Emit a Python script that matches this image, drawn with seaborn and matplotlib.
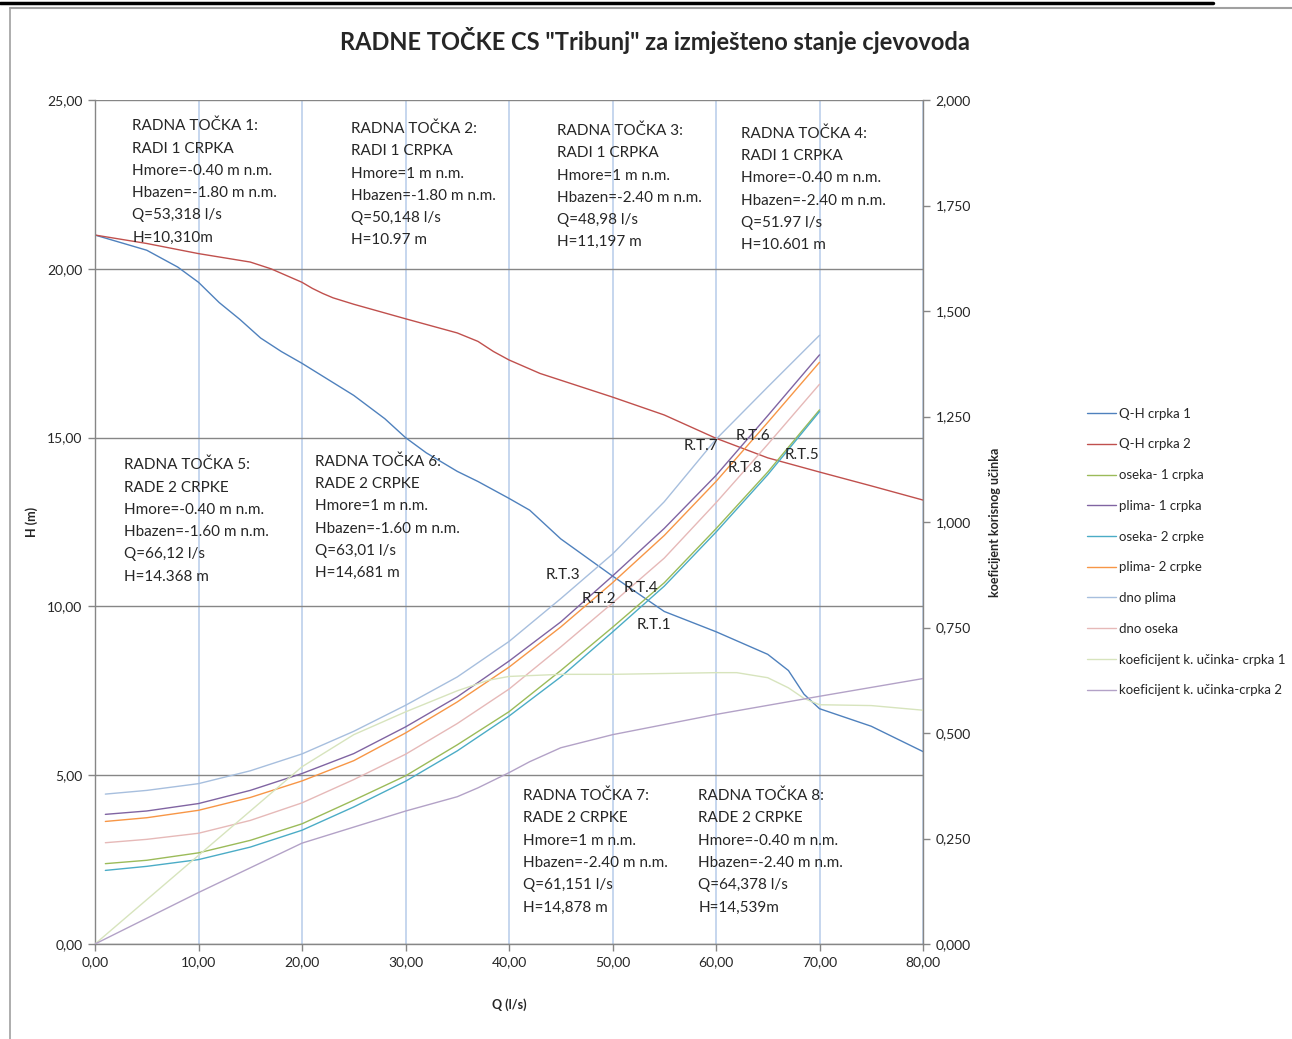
import numpy as np
import pandas as pd
import matplotlib
matplotlib.use("Agg")
import matplotlib.pyplot as plt
from matplotlib.lines import Line2D
import seaborn as sns

# Q-H krivulje crpki (lijeva os, H u m)
Q_QH1 = [0, 5, 8, 10, 12, 14, 16, 18, 20, 25, 28, 30, 32, 35, 37, 40, 42, 45, 50, 55, 60, 65, 67,
         68.5, 70, 75, 80]
H_QH1 = [21.0, 20.55, 20.05, 19.6, 19.0, 18.5, 17.95, 17.55, 17.2, 16.25, 15.56, 15.0, 14.55, 14.0,
         13.7, 13.2, 12.85, 12.0, 10.9, 9.85, 9.25, 8.58, 8.1, 7.4, 6.97, 6.45, 5.7]

Q_QH2 = [0, 5, 10, 15, 17, 20, 21, 22, 23, 25, 30, 35, 37, 38.5, 40, 43, 50, 55, 60, 65, 70, 75, 80]
H_QH2 = [21.0, 20.75, 20.45, 20.2, 20.0, 19.6, 19.42, 19.27, 19.14, 18.95, 18.52, 18.1, 17.85, 17.55,
         17.3, 16.9, 16.2, 15.67, 14.98, 14.4, 13.98, 13.57, 13.15]

# krivulje cjevovoda
Q_SUS = [1, 5, 10, 15, 20, 25, 30, 35, 40, 45, 50, 55, 60, 65, 70]
H_OSEKA1 = [2.38, 2.48, 2.70, 3.07, 3.56, 4.26, 4.98, 5.90, 6.88, 8.10, 9.38, 10.70, 12.30, 13.98, 15.82]
H_PLIMA1 = [3.84, 3.94, 4.16, 4.55, 5.05, 5.64, 6.43, 7.32, 8.38, 9.54, 10.90, 12.31, 13.88, 15.65, 17.45]
H_OSEKA2 = [2.18, 2.30, 2.50, 2.87, 3.37, 4.06, 4.82, 5.72, 6.75, 7.91, 9.24, 10.60, 12.20, 13.90, 15.77]
H_PLIMA2 = [3.63, 3.74, 3.96, 4.34, 4.83, 5.43, 6.25, 7.17, 8.20, 9.39, 10.70, 12.10, 13.70, 15.45, 17.23]
H_DNO_PLIMA = [4.44, 4.55, 4.75, 5.13, 5.63, 6.30, 7.07, 7.91, 8.96, 10.23, 11.55, 13.10, 14.95, 16.50, 18.03]
H_DNO_OSEKA = [3.00, 3.10, 3.28, 3.66, 4.18, 4.87, 5.62, 6.53, 7.55, 8.80, 10.10, 11.43, 13.07, 14.80, 16.58]

# koeficijent korisnog ucinka (desna os)
Q_K1 = [0, 10, 20, 25, 30, 35, 38, 40, 45, 50, 55, 60, 62, 65, 67, 68.5, 70, 75, 80]
K1 = [0, 0.21, 0.42, 0.496, 0.55, 0.60, 0.625, 0.634, 0.639, 0.639, 0.641, 0.643, 0.643, 0.631,
      0.607, 0.582, 0.567, 0.565, 0.554]
Q_K2 = [0, 10, 20, 30, 35, 37, 40, 42, 45, 50, 60, 70, 80]
K2 = [0, 0.122, 0.239, 0.315, 0.349, 0.370, 0.406, 0.432, 0.465, 0.496, 0.544, 0.587, 0.629]

H_SERIES = [
    ("Q-H crpka 1", Q_QH1, H_QH1, "#4F81BD"),
    ("Q-H crpka 2", Q_QH2, H_QH2, "#C0504D"),
    ("oseka- 1 crpka", Q_SUS, H_OSEKA1, "#9BBB59"),
    ("plima- 1 crpka", Q_SUS, H_PLIMA1, "#8064A2"),
    ("oseka- 2 crpke", Q_SUS, H_OSEKA2, "#4BACC6"),
    ("plima- 2 crpke", Q_SUS, H_PLIMA2, "#F79646"),
    ("dno plima", Q_SUS, H_DNO_PLIMA, "#A7BFDE"),
    ("dno oseka", Q_SUS, H_DNO_OSEKA, "#E6B9B8"),
]
K_SERIES = [
    ("koeficijent k. učinka- crpka 1", Q_K1, K1, "#D7E4BD"),
    ("koeficijent k. učinka-crpka 2", Q_K2, K2, "#B3A2C7"),
]

BLOCKS = [
    "RADNA TOČKA 1:\nRADI 1 CRPKA\nHmore=-0.40 m n.m.\nHbazen=-1.80 m n.m.\nQ=53,318 l/s\nH=10,310m",
    "RADNA TOČKA 2:\nRADI 1 CRPKA\nHmore=1 m n.m.\nHbazen=-1.80 m n.m.\nQ=50,148 l/s\nH=10.97 m",
    "RADNA TOČKA 3:\nRADI 1 CRPKA\nHmore=1 m n.m.\nHbazen=-2.40 m n.m.\nQ=48,98 l/s\nH=11,197 m",
    "RADNA TOČKA 4:\nRADI 1 CRPKA\nHmore=-0.40 m n.m.\nHbazen=-2.40 m n.m.\nQ=51.97 l/s\nH=10.601 m",
    "RADNA TOČKA 5:\nRADE 2 CRPKE\nHmore=-0.40 m n.m.\nHbazen=-1.60 m n.m.\nQ=66,12 l/s\nH=14.368 m",
    "RADNA TOČKA 6:\nRADE 2 CRPKE\nHmore=1 m n.m.\nHbazen=-1.60 m n.m.\nQ=63,01 l/s\nH=14,681 m",
    "RADNA TOČKA 7:\nRADE 2 CRPKE\nHmore=1 m n.m.\nHbazen=-2.40 m n.m.\nQ=61,151 l/s\nH=14,878 m",
    "RADNA TOČKA 8:\nRADE 2 CRPKE\nHmore=-0.40 m n.m.\nHbazen=-2.40 m n.m.\nQ=64,378 l/s\nH=14,539m",
]
BLOCK_POS = [(3.6, 24.44), (24.7, 24.36), (44.6, 24.3), (62.4, 24.22),
             (2.8, 14.4), (21.3, 14.5), (41.4, 4.6), (58.3, 4.6)]

RT_LABELS = ["R.T.1", "R.T.2", "R.T.3", "R.T.4", "R.T.5", "R.T.6", "R.T.7", "R.T.8"]
RT_POS = [(52.3, 9.45), (47.05, 10.22), (43.5, 10.93), (51.1, 10.54),
          (66.6, 14.48), (61.9, 15.05), (56.9, 14.75), (61.1, 14.1)]


def comma(fmt):
    return lambda v, pos: fmt.format(v).replace(".", ",")


sns.set_style("white")
plt.rcParams["font.family"] = ["Lato", "DejaVu Sans"]

fig = plt.figure(figsize=(12.92, 10.39), dpi=100)
ax = fig.add_axes([95 / 1292, 95 / 1039, 828 / 1292, 844 / 1039])
ax2 = ax.twinx()

for name, q, h, c in H_SERIES:
    sns.lineplot(x=q, y=h, ax=ax, color=c, linewidth=1.0, label=name, sort=False, estimator=None)
for name, q, k, c in K_SERIES:
    sns.lineplot(x=q, y=k, ax=ax2, color=c, linewidth=1.0, label=name, sort=False, estimator=None)

h1, l1 = ax.get_legend_handles_labels()
h2, l2 = ax2.get_legend_handles_labels()
ax.get_legend().remove()
ax2.get_legend().remove()

ax.set_xlim(0, 80)
ax.set_ylim(0, 25)
ax2.set_ylim(0, 2.0)
ax.set_xticks(np.arange(0, 81, 10))
ax.set_yticks(np.arange(0, 26, 5))
ax2.set_yticks(np.arange(0, 2.01, 0.25))
ax.xaxis.set_major_formatter(plt.FuncFormatter(comma("{:.2f}")))
ax.yaxis.set_major_formatter(plt.FuncFormatter(comma("{:.2f}")))
ax2.yaxis.set_major_formatter(plt.FuncFormatter(comma("{:.3f}")))

ax.set_axisbelow(True)
ax.yaxis.grid(True, color="#868686", linewidth=1.0)
ax.xaxis.grid(True, color="#C6D6EE", linewidth=1.4)

for a in (ax, ax2):
    for s in a.spines.values():
        s.set_visible(False)
ax.spines["left"].set_visible(True)
ax.spines["bottom"].set_visible(True)
ax2.spines["right"].set_visible(True)
for s in (ax.spines["left"], ax.spines["bottom"], ax2.spines["right"]):
    s.set_color("#868686")
    s.set_linewidth(1.0)

ax.tick_params(axis="both", direction="out", length=5, width=1, color="#868686",
               labelsize=10, pad=4, left=True, bottom=True)
ax2.tick_params(axis="y", direction="out", length=5, width=1, color="#868686",
                labelsize=10, pad=4, right=True)

ax.set_xlabel("Q (l/s)", fontsize=9, fontweight="bold")
ax.xaxis.set_label_coords(0.5, -0.064)
ax.set_ylabel("H (m)", fontsize=9, fontweight="bold")
ax.yaxis.set_label_coords(-0.069, 0.5)
ax2.set_ylabel("koeficijent korisnog učinka", fontsize=9, fontweight="bold")
ax2.yaxis.set_label_coords(1.08, 0.5)

for txt, (x, y) in zip(BLOCKS, BLOCK_POS):
    ax.text(x, y, txt, fontsize=11, va="top", ha="left", linespacing=1.75, zorder=5)
for txt, (x, y) in zip(RT_LABELS, RT_POS):
    ax.text(x, y, txt, fontsize=11, va="center", ha="left", zorder=5)

fig.text(655 / 1292, 1 - 40 / 1039, 'RADNE TOČKE CS "Tribunj" za izmješteno stanje cjevovoda',
         fontsize=17, fontweight="bold", ha="center", va="center")

fig.legend(h1 + h2, l1 + l2, loc="center left", bbox_to_anchor=(1082 / 1292, 1 - 552 / 1039),
           borderaxespad=0, frameon=False, fontsize=9.5, handlelength=2.15, handletextpad=0.25,
           labelspacing=1.42)

# okvir stranice
fig.add_artist(Line2D([0, 1213 / 1292], [1 - 3 / 1039] * 2, color="black", linewidth=2.5))
fig.add_artist(Line2D([10 / 1292, 1], [1 - 8 / 1039] * 2, color="#A0A0A0", linewidth=1.5))
fig.add_artist(Line2D([10 / 1292] * 2, [0, 1 - 8 / 1039], color="#A0A0A0", linewidth=1.2))

fig.savefig("out.png", dpi=100)
